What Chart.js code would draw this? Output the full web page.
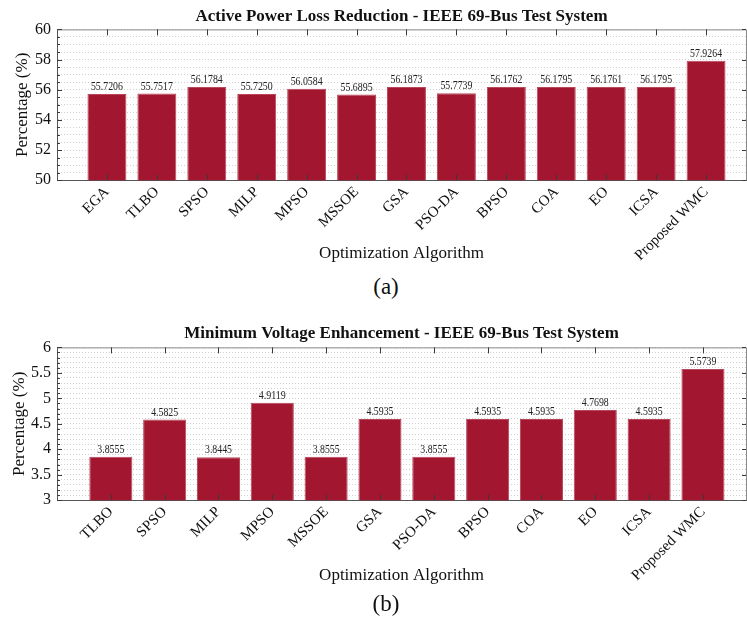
<!DOCTYPE html>
<html>
<head>
<meta charset="utf-8">
<script src="https://cdn.jsdelivr.net/npm/chart.js@4.4.1/dist/chart.umd.min.js"></script>
<style>
  body { margin: 0; background: #fff; overflow: hidden; }
  #page { position: relative; width: 747px; height: 621px; overflow: hidden; background: #fff; }
  canvas { position: absolute; left: 0; }
  .cap { position: absolute; left: 356px; width: 60px; text-align: center; font: 23px "Liberation Serif", serif; line-height: 26px; color: #111; }
</style>
</head>
<body>
<div id="page">
  <canvas id="lossChart" width="747" height="272" style="top:0"></canvas>
  <div class="cap" style="top:274px">(a)</div>
  <canvas id="voltChart" width="747" height="290" style="top:305px"></canvas>
  <div class="cap" style="top:591px">(b)</div>
</div>
<script>
const lossAlgos = ['EGA', 'TLBO', 'SPSO', 'MILP', 'MPSO', 'MSSOE', 'GSA', 'PSO-DA', 'BPSO', 'COA', 'EO', 'ICSA', 'Proposed WMC'];
const lossValues = [55.7206, 55.7517, 56.1784, 55.7250, 56.0584, 55.6895, 56.1873, 55.7739, 56.1762, 56.1795, 56.1761, 56.1795, 57.9264];

const voltAlgos = ['TLBO', 'SPSO', 'MILP', 'MPSO', 'MSSOE', 'GSA', 'PSO-DA', 'BPSO', 'COA', 'EO', 'ICSA', 'Proposed WMC'];
const voltValues = [3.8555, 4.5825, 3.8445, 4.9119, 3.8555, 4.5935, 3.8555, 4.5935, 4.5935, 4.7698, 4.5935, 5.5739];

const lossTicks = { min: 50, max: 60, step: 0.5, major: 2 };
const voltTicks = { min: 3, max: 6, step: 0.1, major: 0.5 };

const SERIF = '"Liberation Serif", "Times New Roman", serif';
const BAR_RED = '#a3162f';

// value printed above each bar
const barValues = {
    id: 'barValues',
    afterDatasetsDraw(chart, args, opts) {
        const ctx = chart.ctx;
        const ds = chart.data.datasets[0];
        ctx.save();
        ctx.font = '12px ' + SERIF;
        ctx.fillStyle = '#222';
        ctx.textAlign = 'center';
        ctx.textBaseline = 'bottom';
        chart.getDatasetMeta(0).data.forEach((bar, i) => {
            ctx.fillText(ds.data[i].y.toFixed(4), bar.x, bar.y - 1, opts.maxWidth);
        });
        ctx.restore();
    }
};

// matlab style box: top/right lines + inward tick marks
const axesBox = {
    id: 'axesBox',
    afterDatasetsDraw(chart) {
        const { ctx, chartArea: a, scales: { x, y } } = chart;
        ctx.save();
        ctx.lineWidth = 1;
        ctx.strokeStyle = '#8a8a8a';
        ctx.beginPath();
        ctx.moveTo(a.left, a.top + 0.5);
        ctx.lineTo(a.right + 0.5, a.top + 0.5);
        ctx.lineTo(a.right + 0.5, a.bottom);
        ctx.stroke();
        ctx.strokeStyle = '#3a3a3a';
        ctx.beginPath();
        x.ticks.forEach(t => {
            if (!t.label) return;
            const px = Math.round(x.getPixelForValue(t.value)) + 0.5;
            ctx.moveTo(px, a.bottom);
            ctx.lineTo(px, a.bottom - 6);
            ctx.moveTo(px, a.top);
            ctx.lineTo(px, a.top + 6);
        });
        y.ticks.forEach(t => {
            const py = Math.round(y.getPixelForValue(t.value)) + 0.5;
            ctx.moveTo(a.left, py);
            ctx.lineTo(a.left + (t.label ? 5 : 3), py);
            if (t.label) {
                ctx.moveTo(a.right, py);
                ctx.lineTo(a.right - 4, py);
            }
        });
        ctx.stroke();
        ctx.restore();
    }
};

function makeChart(canvasId, title, algos, values, yt, opt) {
    return new Chart(document.getElementById(canvasId), {
        type: 'bar',
        data: {
            datasets: [{
                data: values.map((v, i) => ({ x: i + 1, y: v })),
                backgroundColor: BAR_RED,
                borderColor: '#b9475c',
                borderWidth: 1,
                borderSkipped: 'bottom',
                barPercentage: opt.barPct,
                categoryPercentage: 1,
            }]
        },
        options: {
            responsive: false,
            animation: false,
            layout: { padding: { left: 0, right: 1, top: 0, bottom: 0 } },
            plugins: {
                legend: { display: false },
                tooltip: { enabled: false },
                title: {
                    display: true,
                    text: title,
                    fullSize: false,
                    color: '#111',
                    font: { family: SERIF, size: 17, weight: 'bold' },
                    padding: opt.titlePad,
                },
                barValues: { maxWidth: opt.valueWidth },
            },
            scales: {
                x: {
                    type: 'linear',
                    offset: false,
                    min: 0,
                    max: algos.length + 0.8,
                    // keep only whole-number ticks (one per algorithm)
                    afterBuildTicks: s => { s.ticks = s.ticks.filter(t => Number.isInteger(t.value)); },
                    grid: { display: false, offset: false },
                    border: { display: true, color: '#555' },
                    ticks: {
                        stepSize: 1,
                        autoSkip: false,
                        maxRotation: 45,
                        minRotation: 45,
                        padding: -5,
                        color: '#111',
                        font: { family: SERIF, size: 15 },
                        callback: v => algos[v - 1] || '',
                    },
                    title: {
                        display: true,
                        text: 'Optimization Algorithm',
                        color: '#111',
                        font: { family: SERIF, size: 17 },
                        padding: opt.xTitlePad,
                    },
                },
                y: {
                    min: yt.min,
                    max: yt.max,
                    afterFit: s => { s.width = 57; },
                    grid: { color: '#cfcfcf', drawTicks: false },
                    border: { display: true, color: '#555', dash: [1, 2] },
                    ticks: {
                        stepSize: yt.step,
                        autoSkip: false,
                        padding: 6,
                        color: '#111',
                        font: { family: SERIF, size: 16 },
                        callback: v => {
                            const r = v / yt.major;
                            return Math.abs(r - Math.round(r)) < 1e-6 ? String(v) : '';
                        },
                    },
                    title: {
                        display: true,
                        text: 'Percentage (%)',
                        color: '#111',
                        font: { family: SERIF, size: 17 },
                        padding: { top: opt.yTitlePad, bottom: 0 },
                    },
                },
            },
        },
        plugins: [axesBox, barValues],
    });
}

makeChart('lossChart', 'Active Power Loss Reduction - IEEE 69-Bus Test System',
    lossAlgos, lossValues, lossTicks,
    { barPct: 0.78, titlePad: { top: 6, bottom: 3 }, xTitlePad: { top: -16, bottom: 8 }, valueWidth: 32, yTitlePad: 12 });

makeChart('voltChart', 'Minimum Voltage Enhancement - IEEE 69-Bus Test System',
    voltAlgos, voltValues, voltTicks,
    { barPct: 0.8, titlePad: { top: 18, bottom: 4 }, xTitlePad: { top: -14, bottom: 9 }, valueWidth: 27, yTitlePad: 9 });
</script>
</body>
</html>
